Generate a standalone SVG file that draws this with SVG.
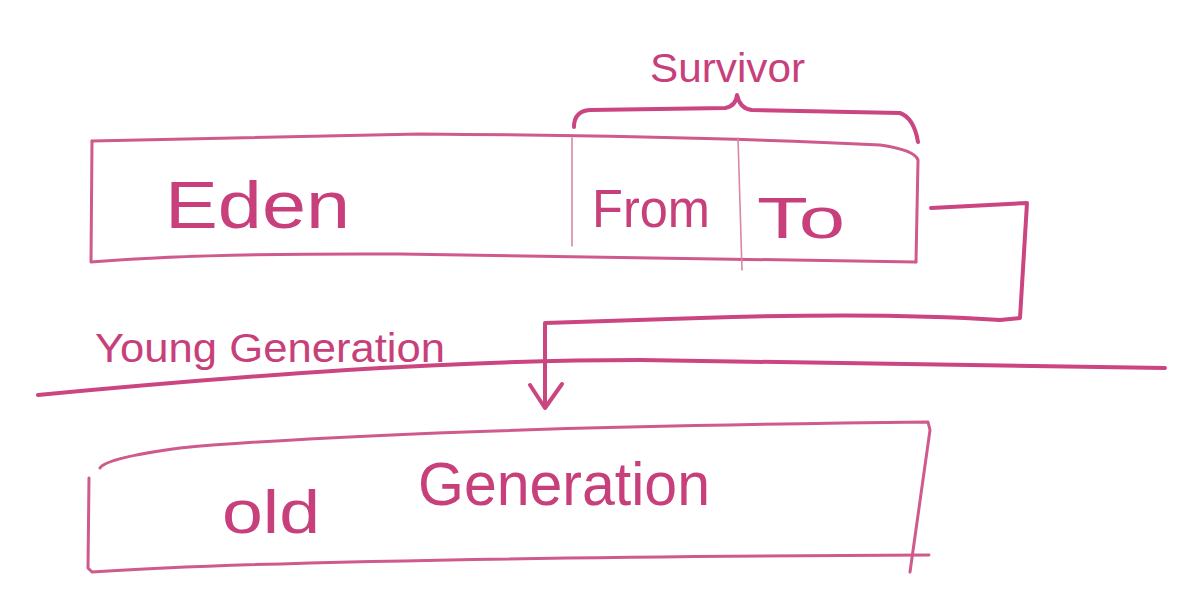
<svg xmlns="http://www.w3.org/2000/svg" width="1192" height="592" viewBox="0 0 1192 592">
<defs>
<style>
.thick{fill:none;stroke:#cb4580;stroke-width:4;stroke-linecap:round;stroke-linejoin:round}
.thin{fill:none;stroke:#cf5a8b;stroke-width:3;stroke-linecap:round;stroke-linejoin:round}
.hair{fill:none;stroke:#d987a8;stroke-width:1.6;stroke-linecap:round}
.lbl{font-family:"Liberation Sans","DejaVu Sans",sans-serif;fill:#c8407b}
</style>
</defs>
<rect width="1192" height="592" fill="#ffffff"/>
<g id="young-box">
<path class="thin" d="M92 141 L420 134 Q700 136 880 145 Q915 150 918 160 L916 262"/>
<path class="thin" d="M92 141 L91 262 Q200 253 400 254 L916 262"/>
<path class="hair" d="M572 138 L572 246"/>
<path class="hair" d="M738 138 L742 270"/>
</g>
<g id="survivor">
<path class="thick" d="M574 127 Q574 111 590 110 L725 108 Q736 106 737 95 Q740 109 752 110 L900 113 Q914 118 918 142"/>
<text class="lbl" x="650" y="82" font-size="40" textLength="155" lengthAdjust="spacingAndGlyphs">Survivor</text>
</g>
<g id="eden">
<text class="lbl" x="165" y="228" font-size="66" textLength="185" lengthAdjust="spacingAndGlyphs">Eden</text>
</g>
<g id="from">
<text class="lbl" x="592" y="227" font-size="54" textLength="118" lengthAdjust="spacingAndGlyphs">From</text>
</g>
<g id="to">
<text class="lbl" x="757" y="238" font-size="58" textLength="88" lengthAdjust="spacingAndGlyphs">To</text>
</g>
<g id="young-generation">
<text class="lbl" x="95" y="362" font-size="40" textLength="350" lengthAdjust="spacingAndGlyphs">Young Generation</text>
<path class="thick" d="M38 395 C250 375 450 360 640 360 L1165 368"/>
</g>
<g id="old-generation">
<path class="thin" d="M100 468 Q106 458 180 448 Q400 428 928 422 L930 430 L910 572"/>
<path class="thin" d="M89 478 L88 568 L92 572 Q300 558 929 555"/>
<text class="lbl" x="222" y="533" font-size="62" textLength="98" lengthAdjust="spacingAndGlyphs">old</text>
<text class="lbl" x="418" y="505" font-size="62" textLength="292" lengthAdjust="spacingAndGlyphs">Generation</text>
</g>
<g id="connectors">
<path class="thick" d="M931 208 L1027 203 L1020 318 L1000 320 Q880 312 700 318 L545 323 L545 406"/>
<path class="thick" d="M530 385 L545 408 L562 384"/>
</g>
</svg>
